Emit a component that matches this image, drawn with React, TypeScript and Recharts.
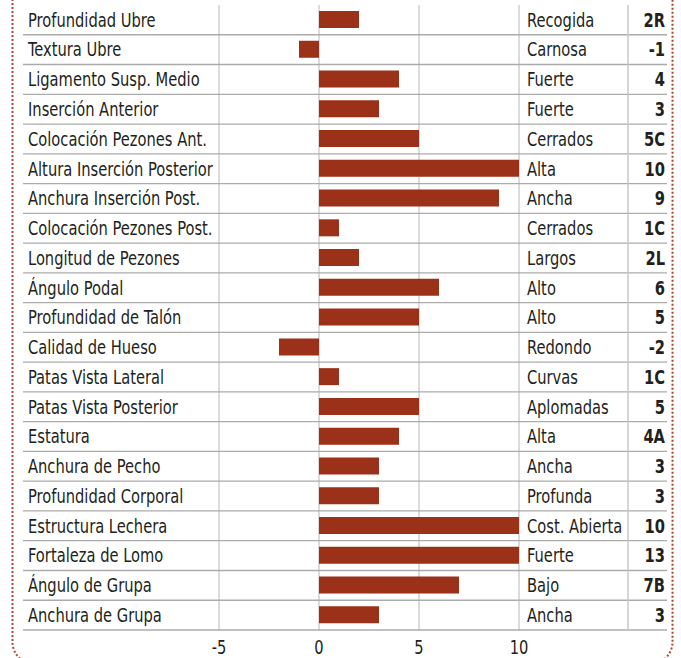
import React from "react";
import { BarChart, Bar, XAxis, YAxis, CartesianGrid } from "recharts";

const categories = [
  "Profundidad Ubre",
  "Textura Ubre",
  "Ligamento Susp. Medio",
  "Inserción Anterior",
  "Colocación Pezones Ant.",
  "Altura Inserción Posterior",
  "Anchura Inserción Post.",
  "Colocación Pezones Post.",
  "Longitud de Pezones",
  "Ángulo Podal",
  "Profundidad de Talón",
  "Calidad de Hueso",
  "Patas Vista Lateral",
  "Patas Vista Posterior",
  "Estatura",
  "Anchura de Pecho",
  "Profundidad Corporal",
  "Estructura Lechera",
  "Fortaleza de Lomo",
  "Ángulo de Grupa",
  "Anchura de Grupa",
];

const values = [2, -1, 4, 3, 5, 10, 9, 1, 2, 6, 5, -2, 1, 5, 4, 3, 3, 10, 13, 7, 3];

const traitLabels = [
  "Recogida",
  "Carnosa",
  "Fuerte",
  "Fuerte",
  "Cerrados",
  "Alta",
  "Ancha",
  "Cerrados",
  "Largos",
  "Alto",
  "Alto",
  "Redondo",
  "Curvas",
  "Aplomadas",
  "Alta",
  "Ancha",
  "Profunda",
  "Cost. Abierta",
  "Fuerte",
  "Bajo",
  "Ancha",
];

const scoreLabels = ["2R", "-1", "4", "3", "5C", "10", "9", "1C", "2L", "6", "5", "-2", "1C", "5", "4A", "3", "3", "10", "13", "7B", "3"];

const xTicks = [-5, 0, 5, 10];

const data = categories.map((name, i) => ({
  name,
  value: values[i],
  trait: traitLabels[i],
  score: scoreLabels[i],
}));

const W = 681;
const H = 658;
const TOP = 5;
const AXIS_H = 28;
const PLOT_H = H - TOP - AXIS_H;
const BAND = PLOT_H / categories.length;
const FONT = "'DejaVu Sans Condensed', 'Liberation Sans Narrow', 'Roboto', sans-serif";
const TEXT = "#231f20";
const ROW_LINE = "#ababab";
const SX = 0.86;

const Label = ({ x, y, anchor, bold, children }: any) => (
  <g transform={`translate(${x} ${y}) scale(${SX} 1)`}>
    <text x={0} y={0} dy="0.36em" textAnchor={anchor || "start"} fontFamily={FONT} fontSize={19} fontWeight={bold ? "bold" : "normal"} fill={TEXT}>
      {children}
    </text>
  </g>
);

const RowTick = (props: any) => {
  const { y, index } = props;
  const row = data[index];
  const bottom = y + BAND / 2;
  return (
    <g>
      <line x1={23} x2={667} y1={bottom} y2={bottom} stroke={ROW_LINE} strokeWidth={1.3} />
      <line x1={628} x2={628} y1={y - BAND / 2} y2={bottom} stroke="#c8c8c8" strokeWidth={1.5} />
      <Label x={28} y={y}>{row.name}</Label>
      <Label x={527} y={y}>{row.trait}</Label>
      <Label x={665} y={y} anchor="end" bold>{row.score}</Label>
    </g>
  );
};

const XTick = (props: any) => {
  const { x, payload } = props;
  return (
    <g transform={`translate(${x} 654) scale(${SX} 1)`}>
      <text x={0} y={0} textAnchor="middle" fontFamily={FONT} fontSize={19} fill={TEXT}>
        {payload.value}
      </text>
    </g>
  );
};

export default function App() {
  return (
    <div style={{ position: "absolute", left: 0, top: 0, width: W, height: H, background: "#fff", overflow: "hidden" }}>
      <BarChart
        width={W}
        height={H}
        data={data}
        layout="vertical"
        margin={{ top: TOP, right: 162, bottom: 0, left: 23 }}
        barSize={17}
      >
        <CartesianGrid horizontal={false} vertical={true} stroke="#cfcfcf" strokeWidth={1.5} />
        <XAxis
          type="number"
          domain={[-5, 10]}
          ticks={xTicks}
          allowDataOverflow
          axisLine={false}
          tickLine={false}
          height={AXIS_H}
          tick={<XTick />}
          interval={0}
        />
        <YAxis
          type="category"
          dataKey="name"
          width={196}
          axisLine={false}
          tickLine={false}
          interval={0}
          tick={<RowTick />}
        />
        <Bar dataKey="value" fill="#9c3119" isAnimationActive={false} />
      </BarChart>
      <svg width={W} height={H} style={{ position: "absolute", left: 0, top: 0, pointerEvents: "none" }}>
        <rect x={12.5} y={-40} width={660} height={704} rx={22} ry={22} fill="none" stroke="#b3462c" strokeWidth={2} strokeDasharray="2 2" />
      </svg>
    </div>
  );
}
